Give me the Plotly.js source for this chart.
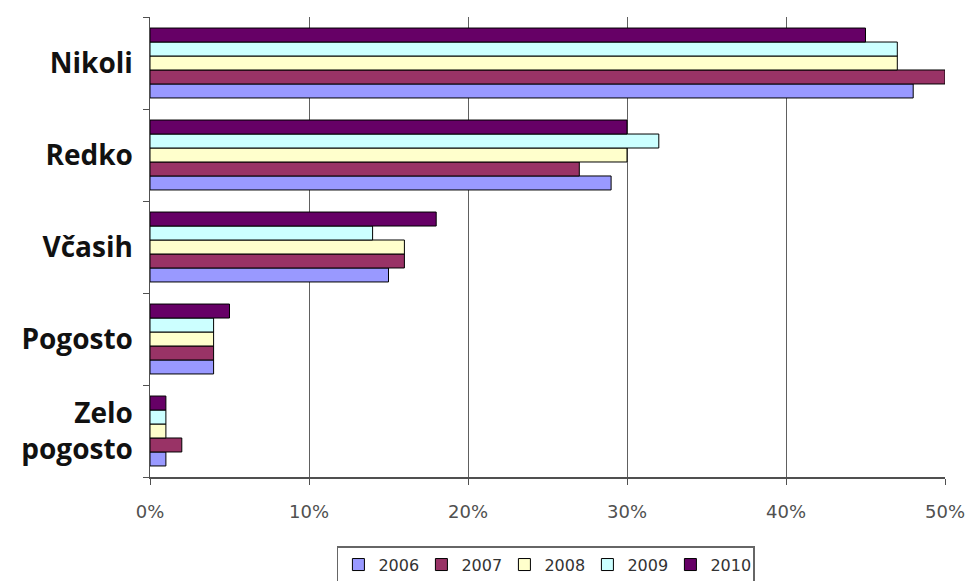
<!DOCTYPE html>
<html>
<head>
<meta charset="utf-8">
<script src="https://cdn.plot.ly/plotly-3.0.1.min.js"></script>
<style>
  html, body { margin: 0; padding: 0; background: #fff; }
  #chart { width: 968px; height: 581px; }
</style>
</head>
<body>
<div id="chart"></div>
<script>
// Answer categories, listed bottom to top
const categories = ['Zelo<br>pogosto', 'Pogosto', 'Včasih', 'Redko', 'Nikoli'];
const years = ['2006', '2007', '2008', '2009', '2010'];

// Share of answers per year (%), same order as categories
const v2006 = [1, 4, 15, 29, 48];
const v2007 = [2, 4, 16, 27, 50];
const v2008 = [1, 4, 16, 30, 47];
const v2009 = [1, 4, 14, 32, 47];
const v2010 = [1, 5, 18, 30, 45];

const seriesValues = [v2006, v2007, v2008, v2009, v2010];
const colors = ['#9999FF', '#993366', '#FFFFCC', '#CCFFFF', '#660066'];

const traces = years.map((yr, i) => ({
  type: 'bar',
  orientation: 'h',
  name: yr,
  y: categories,
  x: seriesValues[i].map(v => v / 100),
  marker: { color: colors[i], line: { color: '#000', width: 1 } },
  hoverinfo: 'x+name'
}));

const layout = {
  width: 968,
  height: 581,
  margin: { l: 150, r: 23, t: 17, b: 104, autoexpand: false },
  paper_bgcolor: '#fff',
  plot_bgcolor: '#fff',
  barmode: 'group',
  bargap: 0.24,
  bargroupgap: 0,
  font: { family: 'DejaVu Sans, Verdana, sans-serif', color: '#333' },
  xaxis: {
    range: [0, 0.5],
    tickvals: [0, 0.1, 0.2, 0.3, 0.4, 0.5],
    ticktext: ['0%', '10%', '20%', '30%', '40%', '50%'],
    tickfont: { size: 18, color: '#505050' },
    ticklabelstandoff: 12,
    showgrid: true,
    gridcolor: '#606060',
    gridwidth: 1,
    zeroline: false,
    showline: true,
    linecolor: '#505050',
    linewidth: 1.5,
    ticks: 'outside',
    ticklen: 6,
    tickcolor: '#505050',
    fixedrange: true
  },
  yaxis: {
    type: 'category',
    categoryorder: 'array',
    categoryarray: categories,
    tickson: 'boundaries',
    ticks: 'outside',
    ticklen: 6,
    tickcolor: '#505050',
    showline: true,
    linecolor: '#505050',
    linewidth: 1.5,
    showgrid: false,
    zeroline: false,
    ticklabelstandoff: 10,
    tickfont: { family: 'Open Sans, Liberation Sans, sans-serif', size: 28, color: '#111', weight: 'bold' },
    fixedrange: true
  },
  legend: {
    orientation: 'h',
    x: 0.498,
    xanchor: 'center',
    yref: 'container',
    y: 0.06,
    yanchor: 'top',
    bordercolor: '#666',
    borderwidth: 1.5,
    font: { size: 16, color: '#333' },
    itemwidth: 30,
    entrywidth: 38,
    tracegroupgap: 0,
    itemclick: false
  },
  showlegend: true
};

Plotly.newPlot('chart', traces, layout, { displayModeBar: false, staticPlot: true });
</script>
</body>
</html>
